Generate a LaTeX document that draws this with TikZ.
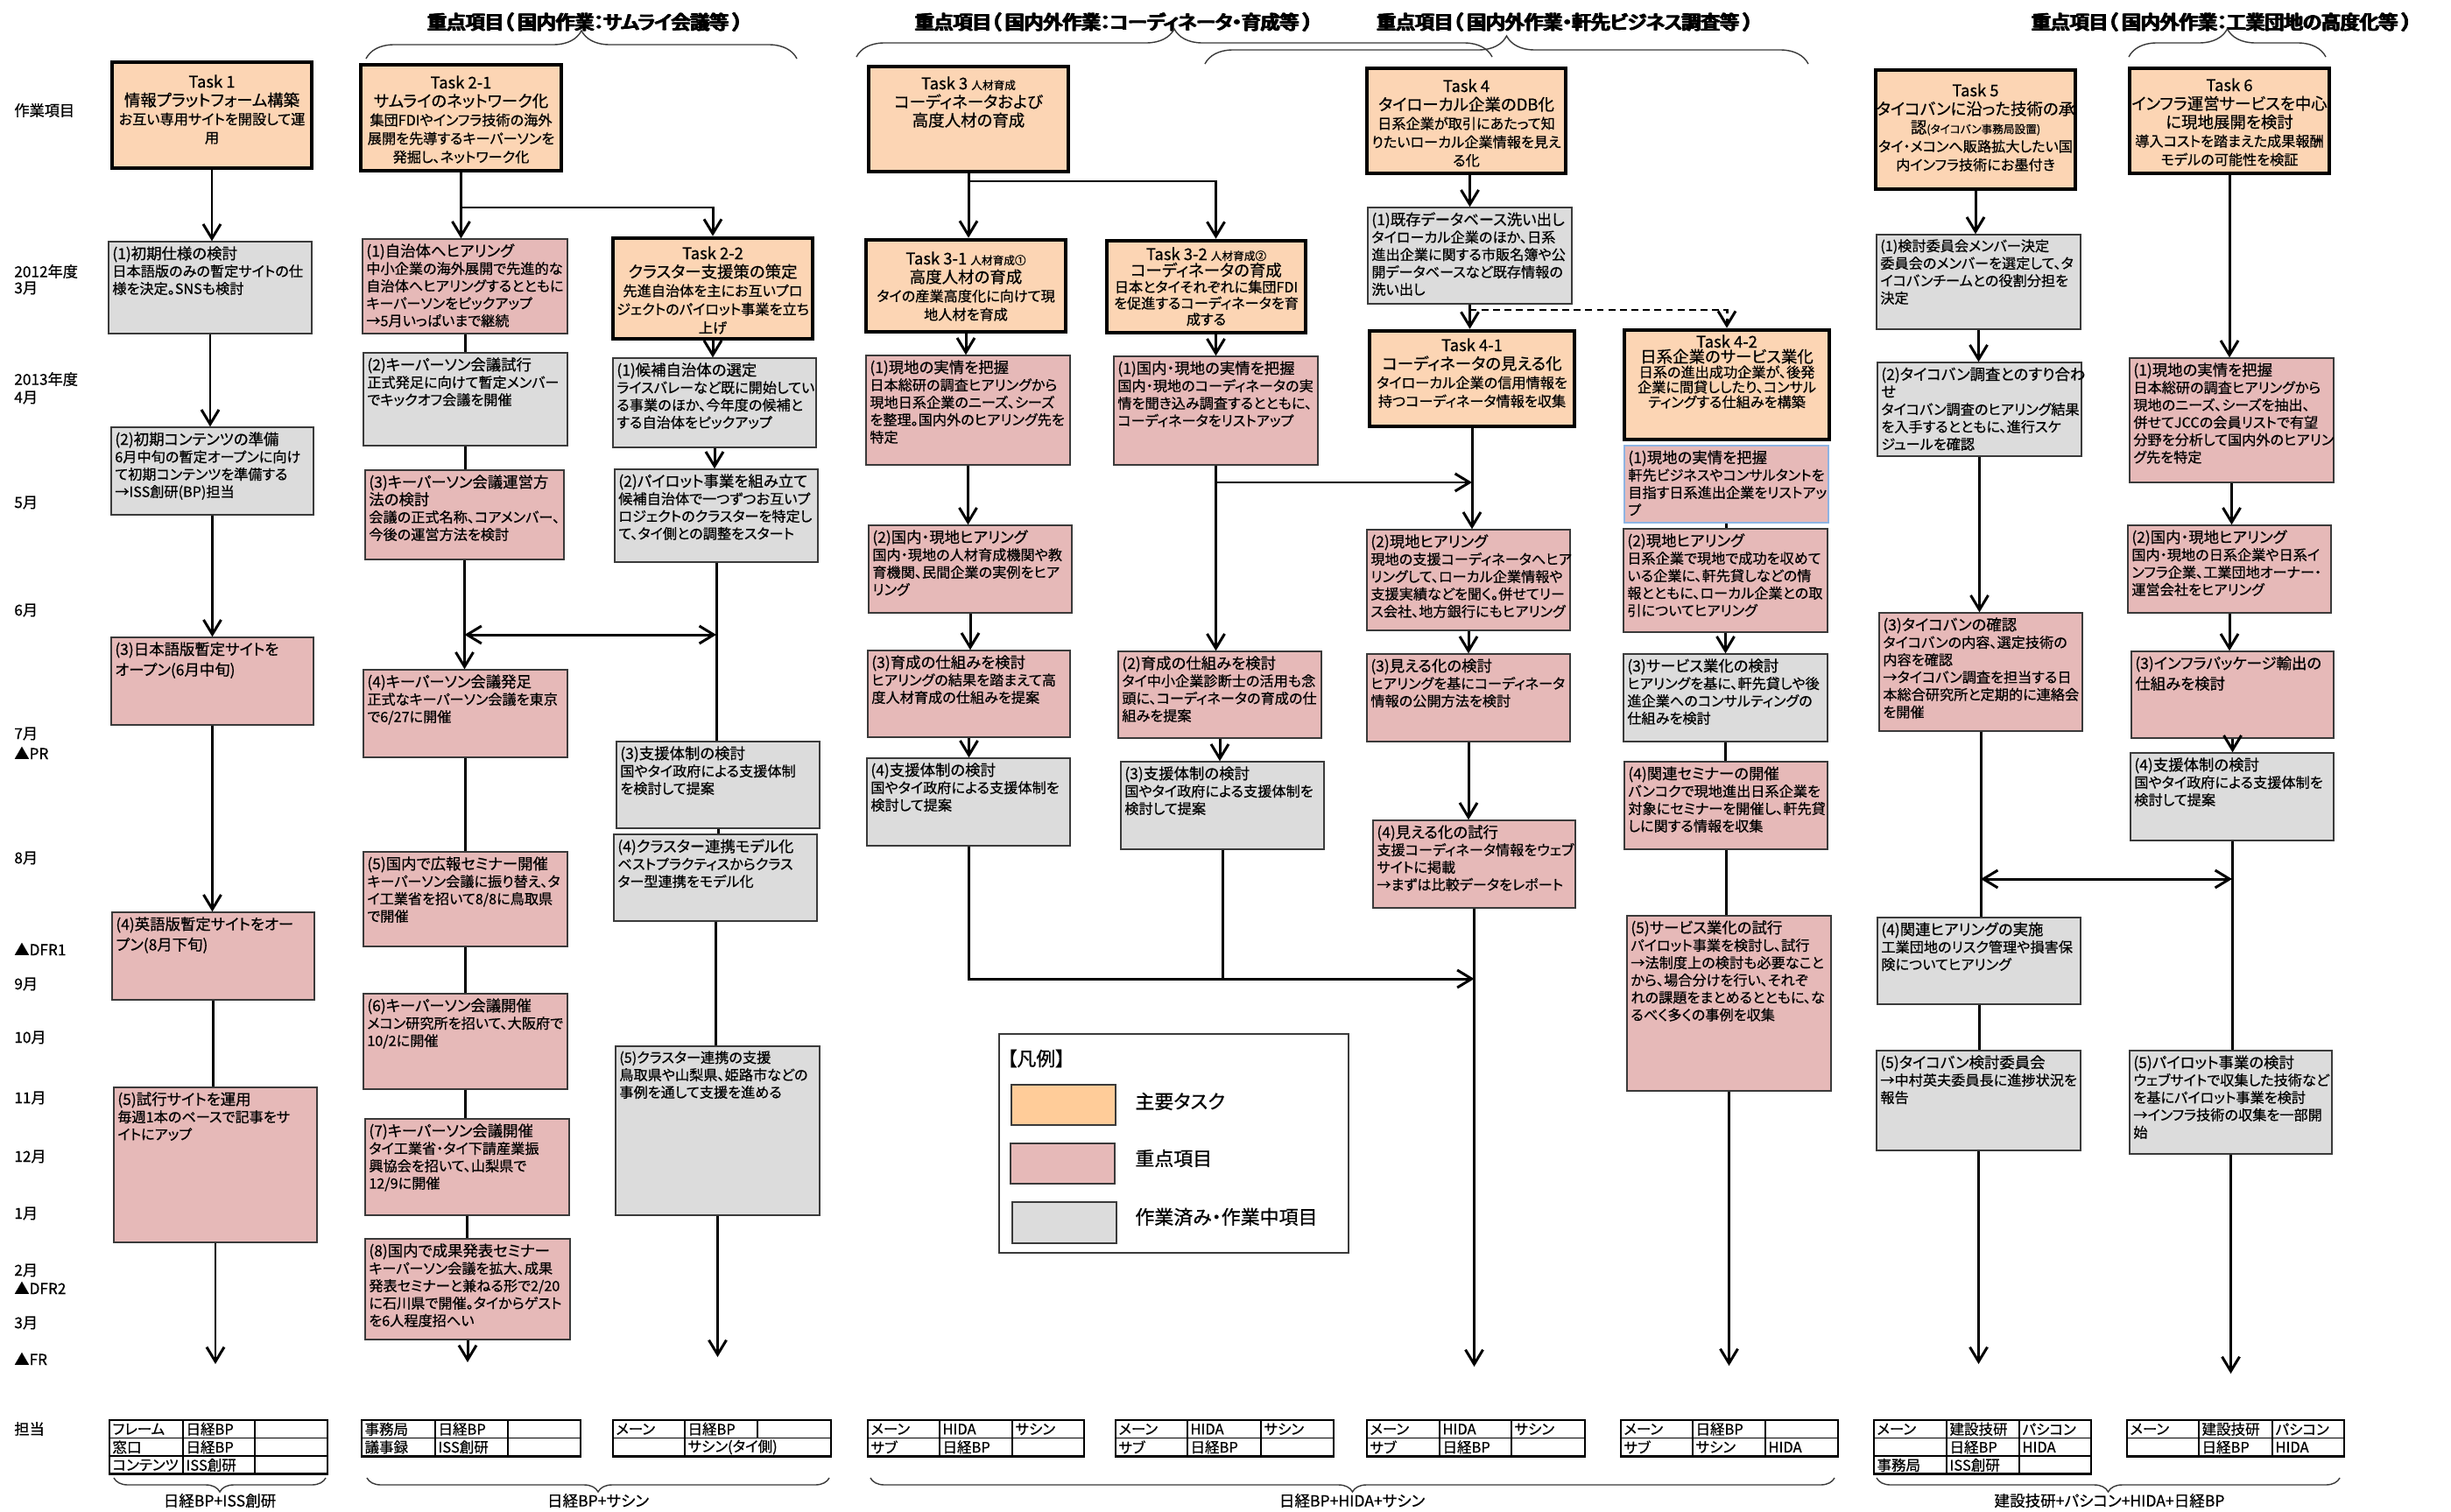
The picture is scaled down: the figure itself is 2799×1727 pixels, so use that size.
\documentclass[tikz,border=0pt]{standalone}
\usepackage{fontspec}
\setmainfont{Noto Sans CJK JP}[RawFeature=+palt, FakeBold=0.6]
\newfontfamily\hdfont{Noto Sans CJK JP}[RawFeature=+palt, FakeBold=3]
\usetikzlibrary{arrows.meta,fit,calc,decorations.pathreplacing}

\definecolor{taskc}{HTML}{FCD5B4}
\definecolor{pinkc}{HTML}{E6B9B8}
\definecolor{grayc}{HTML}{DCDCDC}
\definecolor{legor}{HTML}{FFCC99}
\definecolor{edgec}{HTML}{3A3A3A}
\definecolor{bluee}{HTML}{8EB4E3}

\newcommand{\bodyf}{\fontsize{9.2pt}{11.3pt}\selectfont}
\newcommand{\headf}{\fontsize{9.9pt}{12pt}\selectfont}
\newcommand{\taskf}{\fontsize{9.2pt}{12pt}\selectfont}
\newcommand{\itemhead}[1]{{\headf #1}}
\newcommand{\tasklabel}[1]{{\fontsize{10.5pt}{12pt}\selectfont #1}}
\newcommand{\tasktitle}[1]{{\fontsize{10.5pt}{12pt}\selectfont #1}}
\newcommand{\tasksmall}[1]{{\fontsize{7.2pt}{9pt}\selectfont #1}}
% heavy heading text: the glyphs are overprinted with a small offset
\newcommand{\heavy}[1]{\rlap{#1}\kern0.45pt\rlap{#1}\kern0.45pt#1}

\tikzset{
  conn/.style={line width=1.7pt},
  arr/.style={conn, -{Straight Barb[length=3.3mm,width=4mm]}},
  darr/.style={conn, {Straight Barb[length=3.3mm,width=4mm]}-{Straight Barb[length=3.3mm,width=4mm]}},
  taskframe/.style={draw=black, line width=2.6pt, fill=taskc, inner sep=0pt},
  pinkbox/.style={draw=edgec, line width=0.75pt, fill=pinkc, inner sep=0pt},
  bluepink/.style={draw=bluee, line width=0.9pt, fill=pinkc, inner sep=0pt},
  graybox/.style={draw=edgec, line width=0.75pt, fill=grayc, inner sep=0pt},
  tasktext/.style={anchor=north, inner sep=0pt, align=center, font=\taskf},
  itemtext/.style={anchor=north west, inner sep=0pt, align=left, font=\bodyf},
  lbl/.style={anchor=west, inner sep=0pt, font=\fontsize{9.8pt}{11pt}\selectfont},
  hdr/.style={inner sep=0pt, font={\hdfont\fontsize{12.4pt}{14pt}\selectfont}},
  brc/.style={draw=edgec, line width=0.8pt, decorate},
  tabout/.style={draw=black, line width=1.6pt},
  tabin/.style={draw=black, line width=0.9pt},
  celltext/.style={anchor=west, inner sep=0pt, xshift=1.8pt, font=\fontsize{9.4pt}{10pt}\selectfont},
  foot/.style={inner sep=0pt, font=\fontsize{10pt}{11pt}\selectfont},
  legtext/.style={anchor=west, inner sep=0pt, font=\fontsize{12.5pt}{14pt}\selectfont},
}

% main task box: name, x1, y1, x2, y2, top offset, text
\newcommand{\taskbox}[7]{%
  \coordinate (#1-a) at (#2,#3);
  \coordinate (#1-b) at (#4,#5);
  \node[taskframe, fit=(#1-a)(#1-b)] (#1) {};
  \node[tasktext] (#1-t) at ({(#2+#4)/2},{#3+#6}) {#7};
}
% work item box: name, style, x1, y1, x2, y2, text
\newcommand{\itembox}[7]{%
  \coordinate (#1-a) at (#3,#4);
  \coordinate (#1-b) at (#5,#6);
  \node[#2, fit=(#1-a)(#1-b)] (#1) {};
  \node[itemtext] (#1-t) at ({#3+4},{#4+5}) {#7};
}
% table grid: x0, x1, x2, x3, top, rows
\newcommand{\tabgrid}[6]{%
  \foreach \rr in {1,...,#6}{\draw[tabin] (#1,{#5+\rr*20.6}) -- (#4,{#5+\rr*20.6});}
  \draw[tabin] (#2,#5) -- (#2,{#5+#6*20.6}) (#3,#5) -- (#3,{#5+#6*20.6});
  \draw[tabout] (#1,#5) rectangle (#4,{#5+#6*20.6});
}

\begin{document}
\begin{tikzpicture}[x=0.2mm,y=-0.2mm]
\fill[white] (0,0) rectangle (2799,1727);
\useasboundingbox (0,0) rectangle (2799,1727);

% ---------- section headings and braces ----------
\node[hdr] (h1) at (668,25) {\heavy{重点項目（\ 国内作業：サムライ会議等\ ）}};
\node[hdr] (h2) at (1272,25) {\heavy{重点項目（\ 国内外作業：コーディネータ・育成等\ ）}};
\node[hdr] (h3) at (1787,25) {\heavy{重点項目（\ 国内外作業・軒先ビジネス調査等\ ）}};
\node[hdr] (h4) at (2537,25) {\heavy{重点項目（\ 国内外作業：工業団地の高度化等\ ）}};
\coordinate (b1l) at (418,67);  \coordinate (b1r) at (910,67);
\coordinate (b2l) at (978,65);  \coordinate (b2r) at (1704,65);
\coordinate (b3l) at (1376,73); \coordinate (b3r) at (2065,73);
\coordinate (b4l) at (2431,65); \coordinate (b4r) at (2656,65);
\draw[brc, decoration={brace,amplitude=6.4mm}] (b1l) -- (b1r);
\draw[brc, decoration={brace,amplitude=6.4mm}] (b2l) -- (b2r);
\draw[brc, decoration={brace,amplitude=6.4mm}] (b3l) -- (b3r);
\draw[brc, decoration={brace,amplitude=6.4mm}] (b4l) -- (b4r);

% ---------- time axis ----------
\node[lbl] (l0) at (16,126) {作業項目};
\node[lbl] (l1) at (16,310) {2012年度};
\node[lbl] (l1m) at (16,329) {3月};
\node[lbl] (l2) at (16,433) {2013年度};
\node[lbl] (l2m) at (16,454) {4月};
\node[lbl] (l5) at (16,574) {5月};
\node[lbl] (l6) at (16,697) {6月};
\node[lbl] (l7) at (16,838) {7月};
\node[lbl] (lpr) at (16,860) {▲PR};
\node[lbl] (l8) at (16,980) {8月};
\node[lbl] (ld1) at (16,1084) {▲DFR1};
\node[lbl] (l9) at (16,1124) {9月};
\node[lbl] (l10) at (16,1185) {10月};
\node[lbl] (l11) at (16,1254) {11月};
\node[lbl] (l12) at (16,1321) {12月};
\node[lbl] (l13) at (16,1386) {1月};
\node[lbl] (l14) at (16,1451) {2月};
\node[lbl] (ld2) at (16,1471) {▲DFR2};
\node[lbl] (l15) at (16,1511) {3月};
\node[lbl] (lfr) at (16,1552) {▲FR};
\node[lbl] (lres) at (16,1632) {担当};

% ---------- main tasks ----------
\taskbox{t1}{128}{71}{356}{192}{14}{\tasklabel{Task 1}\\ \tasktitle{情報プラットフォーム構築}\\ お互い専用サイトを開設して運\\ 用}
\taskbox{t21}{412}{74}{641}{195}{12}{\tasklabel{Task 2-1}\\ \tasktitle{サムライのネットワーク化}\\ 集団FDIやインフラ技術の海外\\ 展開を先導するキーパーソンを\\ 発掘し、ネットワーク化}
\taskbox{t22}{700}{272}{928}{387}{9}{\tasklabel{Task 2-2}\\ \tasktitle{クラスター支援策の策定}\\ 先進自治体を主にお互いプロ\\ ジェクトのパイロット事業を立ち\\ 上げ}
\taskbox{t3}{992}{76}{1220}{196}{11}{\tasklabel{Task 3 \tasksmall{人材育成}}\\ \tasktitle{コーディネータおよび}\\ \tasktitle{高度人材の育成}}
\taskbox{t31}{989}{274}{1217}{379}{13}{\tasklabel{Task 3-1 \tasksmall{人材育成①}}\\ \tasktitle{高度人材の育成}\\ タイの産業高度化に向けて現\\ 地人材を育成}
\taskbox{t32}{1264}{275}{1491}{380}{7}{\tasklabel{Task 3-2 \tasksmall{人材育成②}}\\[-1.5pt] \tasktitle{コーディネータの育成}\\[-1.5pt] 日本とタイそれぞれに集団FDI\\[-1.5pt] を促進するコーディネータを育\\[-1.5pt] 成する}
\taskbox{t4}{1561}{78}{1788}{198}{12}{\tasklabel{Task 4}\\ \tasktitle{タイローカル企業のDB化}\\ 日系企業が取引にあたって知\\ りたいローカル企業情報を見え\\ る化}
\taskbox{t41}{1564}{378}{1798}{487}{8}{\tasklabel{Task 4-1}\\ \tasktitle{コーディネータの見える化}\\ タイローカル企業の信用情報を\\ 持つコーディネータ情報を収集}
\taskbox{t42}{1855}{377}{2089}{502}{5}{\tasklabel{Task 4-2}\\[-2.3pt] \tasktitle{日系企業のサービス業化}\\[-2.3pt] 日系の進出成功企業が、後発\\[-2.3pt] 企業に間貸ししたり、コンサル\\[-2.3pt] ティングする仕組みを構築}
\taskbox{t5}{2142}{80}{2370}{216}{15}{\tasklabel{Task 5}\\ \tasktitle{タイコバンに沿った技術の承}\\ \tasktitle{認}\tasksmall{(タイコバン事務局設置)}\\ タイ・メコンへ販路拡大したい国\\ 内インフラ技術にお墨付き}
\taskbox{t6}{2432}{78}{2660}{198}{11}{\tasklabel{Task 6}\\ \tasktitle{インフラ運営サービスを中心}\\ \tasktitle{に現地展開を検討}\\ 導入コストを踏まえた成果報酬\\ モデルの可能性を検証}

% ---------- Task 1 items ----------
\itembox{c1a}{graybox}{124}{276}{356}{381}{\itemhead{(1)初期仕様の検討}\\ 日本語版のみの暫定サイトの仕\\ 様を決定。SNSも検討}
\itembox{c1b}{graybox}{127}{488}{358}{588}{\itemhead{(2)初期コンテンツの準備}\\ 6月中旬の暫定オープンに向け\\ て初期コンテンツを準備する\\ →ISS創研(BP)担当}
\itembox{c1c}{pinkbox}{127}{728}{358}{828}{\itemhead{(3)日本語版暫定サイトを}\\[2pt] \itemhead{オープン(6月中旬)}}
\itembox{c1d}{pinkbox}{128}{1042}{359}{1142}{\itemhead{(4)英語版暫定サイトをオー}\\[2pt] \itemhead{プン(8月下旬)}}
\itembox{c1e}{pinkbox}{130}{1242}{362}{1419}{\itemhead{(5)試行サイトを運用}\\ 毎週1本のペースで記事をサ\\ イトにアップ}

% ---------- Task 2-1 items ----------
\itembox{c2a}{pinkbox}{414}{273}{648}{381}{\itemhead{(1)自治体へヒアリング}\\ 中小企業の海外展開で先進的な\\ 自治体へヒアリングするとともに\\ キーパーソンをピックアップ\\ →5月いっぱいまで継続}
\itembox{c2b}{graybox}{415}{403}{648}{509}{\itemhead{(2)キーパーソン会議試行}\\ 正式発足に向けて暫定メンバー\\ でキックオフ会議を開催}
\itembox{c2c}{pinkbox}{417}{537}{644}{639}{\itemhead{(3)キーパーソン会議運営方}\\ \itemhead{法の検討}\\ 会議の正式名称、コアメンバー、\\ 今後の運営方法を検討}
\itembox{c2d}{pinkbox}{415}{765}{648}{865}{\itemhead{(4)キーパーソン会議発足}\\ 正式なキーパーソン会議を東京\\ で6/27に開催}
\itembox{c2e}{pinkbox}{415}{973}{648}{1081}{\itemhead{(5)国内で広報セミナー開催}\\ キーパーソン会議に振り替え、タ\\ イ工業省を招いて8/8に鳥取県\\ で開催}
\itembox{c2f}{pinkbox}{415}{1135}{648}{1244}{\itemhead{(6)キーパーソン会議開催}\\ メコン研究所を招いて、大阪府で\\ 10/2に開催}
\itembox{c2g}{pinkbox}{417}{1278}{650}{1388}{\itemhead{(7)キーパーソン会議開催}\\ タイ工業省・タイ下請産業振\\ 興協会を招いて、山梨県で\\ 12/9に開催}
\itembox{c2h}{pinkbox}{417}{1415}{651}{1530}{\itemhead{(8)国内で成果発表セミナー}\\ キーパーソン会議を拡大、成果\\ 発表セミナーと兼ねる形で2/20\\ に石川県で開催。タイからゲスト\\ を6人程度招へい}

% ---------- Task 2-2 items ----------
\itembox{c3a}{graybox}{700}{409}{932}{511}{\itemhead{(1)候補自治体の選定}\\ ライスバレーなど既に開始してい\\ る事業のほか、今年度の候補と\\ する自治体をピックアップ}
\itembox{c3b}{graybox}{702}{536}{934}{642}{\itemhead{(2)パイロット事業を組み立て}\\ 候補自治体で一つずつお互いプ\\ ロジェクトのクラスターを特定し\\ て、タイ側との調整をスタート}
\itembox{c3c}{graybox}{704}{847}{936}{946}{\itemhead{(3)支援体制の検討}\\ 国やタイ政府による支援体制\\ を検討して提案}
\itembox{c3d}{graybox}{701}{953}{933}{1052}{\itemhead{(4)クラスター連携モデル化}\\ ベストプラクティスからクラス\\ ター型連携をモデル化}
\itembox{c3e}{graybox}{703}{1195}{936}{1388}{(5)クラスター連携の支援\\ 鳥取県や山梨県、姫路市などの\\ 事例を通して支援を進める}

% ---------- Task 3-1 items ----------
\itembox{c4a}{pinkbox}{989}{406}{1222}{531}{\itemhead{(1)現地の実情を把握}\\ 日本総研の調査ヒアリングから\\ 現地日系企業のニーズ、シーズ\\ を整理。国内外のヒアリング先を\\ 特定}
\itembox{c4b}{pinkbox}{992}{600}{1224}{700}{\itemhead{(2)国内・現地ヒアリング}\\ 国内・現地の人材育成機関や教\\ 育機関、民間企業の実例をヒア\\ リング}
\itembox{c4c}{pinkbox}{991}{743}{1222}{842}{\itemhead{(3)育成の仕組みを検討}\\ ヒアリングの結果を踏まえて高\\ 度人材育成の仕組みを提案}
\itembox{c4d}{graybox}{990}{866}{1222}{966}{\itemhead{(4)支援体制の検討}\\ 国やタイ政府による支援体制を\\ 検討して提案}

% ---------- Task 3-2 items ----------
\itembox{c5a}{pinkbox}{1272}{407}{1505}{531}{\itemhead{(1)国内・現地の実情を把握}\\ 国内・現地のコーディネータの実\\ 情を聞き込み調査するとともに、\\ コーディネータをリストアップ}
\itembox{c5b}{pinkbox}{1277}{744}{1509}{843}{\itemhead{(2)育成の仕組みを検討}\\ タイ中小企業診断士の活用も念\\ 頭に、コーディネータの育成の仕\\ 組みを提案}
\itembox{c5c}{graybox}{1280}{870}{1512}{970}{\itemhead{(3)支援体制の検討}\\ 国やタイ政府による支援体制を\\ 検討して提案}

% ---------- Task 4 / 4-1 items ----------
\itembox{c6a}{graybox}{1562}{237}{1795}{347}{\itemhead{(1)既存データベース洗い出し}\\ タイローカル企業のほか、日系\\ 進出企業に関する市販名簿や公\\ 開データベースなど既存情報の\\ 洗い出し}
\itembox{c6b}{pinkbox}{1561}{605}{1793}{720}{\itemhead{(2)現地ヒアリング}\\ 現地の支援コーディネータへヒア\\ リングして、ローカル企業情報や\\ 支援実績などを聞く。併せてリー\\ ス会社、地方銀行にもヒアリング}
\itembox{c6c}{pinkbox}{1561}{747}{1793}{847}{\itemhead{(3)見える化の検討}\\ ヒアリングを基にコーディネータ\\ 情報の公開方法を検討}
\itembox{c6d}{pinkbox}{1568}{937}{1799}{1037}{\itemhead{(4)見える化の試行}\\ 支援コーディネータ情報をウェブ\\ サイトに掲載\\ →まずは比較データをレポート}

% ---------- Task 4-2 items ----------
\itembox{c7a}{bluepink}{1855}{509}{2088}{597}{\itemhead{(1)現地の実情を把握}\\ 軒先ビジネスやコンサルタントを\\ 目指す日系進出企業をリストアッ\\ プ}
\itembox{c7b}{pinkbox}{1854}{604}{2087}{722}{\itemhead{(2)現地ヒアリング}\\ 日系企業で現地で成功を収めて\\ いる企業に、軒先貸しなどの情\\ 報とともに、ローカル企業との取\\ 引についてヒアリング}
\itembox{c7c}{graybox}{1854}{747}{2087}{847}{\itemhead{(3)サービス業化の検討}\\ ヒアリングを基に、軒先貸しや後\\ 進企業へのコンサルティングの\\ 仕組みを検討}
\itembox{c7d}{pinkbox}{1855}{870}{2087}{970}{\itemhead{(4)関連セミナーの開催}\\ バンコクで現地進出日系企業を\\ 対象にセミナーを開催し、軒先貸\\ しに関する情報を収集}
\itembox{c7e}{pinkbox}{1858}{1046}{2091}{1246}{\itemhead{(5)サービス業化の試行}\\ パイロット事業を検討し、試行\\ →法制度上の検討も必要なこと\\ から、場合分けを行い、それぞ\\ れの課題をまとめるとともに、な\\ るべく多くの事例を収集}

% ---------- Task 5 items ----------
\itembox{c8a}{graybox}{2143}{268}{2376}{376}{(1)検討委員会メンバー決定\\ 委員会のメンバーを選定して、タ\\ イコバンチームとの役割分担を\\ 決定}
\itembox{c8b}{graybox}{2144}{414}{2377}{521}{\itemhead{(2)タイコバン調査とのすり合わ}\\ \itemhead{せ}\\ タイコバン調査のヒアリング結果\\ を入手するとともに、進行スケ\\ ジュールを確認}
\itembox{c8c}{pinkbox}{2146}{700}{2378}{835}{\itemhead{(3)タイコバンの確認}\\ タイコバンの内容、選定技術の\\ 内容を確認\\ →タイコバン調査を担当する日\\ 本総合研究所と定期的に連絡会\\ を開催}
\itembox{c8d}{graybox}{2144}{1048}{2376}{1147}{\itemhead{(4)関連ヒアリングの実施}\\ 工業団地のリスク管理や損害保\\ 険についてヒアリング}
\itembox{c8e}{graybox}{2143}{1200}{2376}{1314}{\itemhead{(5)タイコバン検討委員会}\\ →中村英夫委員長に進捗状況を\\ 報告}

% ---------- Task 6 items ----------
\itembox{c9a}{pinkbox}{2432}{409}{2665}{551}{\itemhead{(1)現地の実情を把握}\\ 日本総研の調査ヒアリングから\\ 現地のニーズ、シーズを抽出、\\ 併せてJCCの会員リストで有望\\ 分野を分析して国内外のヒアリン\\ グ先を特定}
\itembox{c9b}{pinkbox}{2430}{600}{2662}{700}{\itemhead{(2)国内・現地ヒアリング}\\ 国内・現地の日系企業や日系イ\\ ンフラ企業、工業団地オーナー・\\ 運営会社をヒアリング}
\itembox{c9c}{pinkbox}{2434}{744}{2665}{843}{\itemhead{(3)インフラパッケージ輸出の}\\[2pt] \itemhead{仕組みを検討}}
\itembox{c9d}{graybox}{2433}{860}{2665}{960}{\itemhead{(4)支援体制の検討}\\ 国やタイ政府による支援体制を\\ 検討して提案}
\itembox{c9e}{graybox}{2432}{1200}{2663}{1318}{\itemhead{(5)パイロット事業の検討}\\ ウェブサイトで収集した技術など\\ を基にパイロット事業を検討\\ →インフラ技術の収集を一部開\\ 始}

% ---------- connectors: Task 1 ----------
\draw[arr] (t1.south) -- (t1.south |- c1a.north);
\draw[arr] (c1a.south) -- (c1a.south |- c1b.north);
\draw[arr] (c1b.south) -- (c1b.south |- c1c.north);
\draw[arr] (c1c.south) -- (c1c.south |- c1d.north);
\draw[conn] (c1d.south) -- (c1d.south |- c1e.north);
\coordinate (e1) at (c1e.south |- 0,1558);
\draw[arr] (c1e.south) -- (e1);

% ---------- connectors: Task 2 ----------
\draw[arr] (t21.south) -- (t21.south |- c2a.north);
\coordinate (j2) at (t21.south |- 0,237);
\draw[arr] (j2) -| (t22.north);
\draw[conn] (c2a.south) -- (c2a.south |- c2b.north);
\draw[conn] (c2b.south) -- (c2b.south |- c2c.north);
\draw[arr] (c2c.south) -- (c2c.south |- c2d.north);
\draw[conn] (c2d.south) -- (c2d.south |- c2e.north);
\draw[conn] (c2e.south) -- (c2e.south |- c2f.north);
\draw[conn] (c2f.south) -- (c2f.south |- c2g.north);
\draw[conn] (c2g.south) -- (c2g.south |- c2h.north);
\coordinate (e2) at (c2h.south |- 0,1556);
\draw[arr] (c2h.south) -- (e2);

\draw[arr] (t22.south) -- (t22.south |- c3a.north);
\draw[arr] (c3a.south) -- (c3a.south |- c3b.north);
\draw[conn] (c3b.south) -- (c3b.south |- c3c.north);
\draw[conn] (c3c.south) -- (c3c.south |- c3d.north);
\draw[conn] (c3d.south) -- (c3d.south |- c3e.north);
\coordinate (e3) at (c3e.south |- 0,1550);
\draw[arr] (c3e.south) -- (e3);
\coordinate (dl1) at (c2c.south |- 0,725);
\coordinate (dr1) at (c3b.south |- 0,725);
\draw[darr] (dl1) -- (dr1);

% ---------- connectors: Task 3 ----------
\draw[arr] (t3.south) -- (t3.south |- t31.north);
\coordinate (j3) at (t3.south |- 0,207);
\draw[arr] (j3) -| (c5a.north |- t32.north);
\draw[arr] (t31.south) -- (t31.south |- c4a.north);
\draw[arr] (c4a.south) -- (c4a.south |- c4b.north);
\draw[arr] (c4b.south) -- (c4b.south |- c4c.north);
\draw[arr] (c4c.south) -- (c4c.south |- c4d.north);
\draw[arr] (c5a.north |- t32.south) -- (c5a.north);
\draw[arr] (c5a.south) -- (c5a.south |- c5b.north);
\draw[arr] (c5b.south) -- (c5b.south |- c5c.north);
\coordinate (m2) at (t41.south |- 0,551);
\coordinate (m2s) at (c5a.south |- m2);
\draw[arr] (m2s) -- (m2);
\coordinate (m1) at (c6d.south |- 0,1118);
\draw[arr] (c4d.south) |- (m1);
\draw[conn] (c5c.south) -- (c5c.south |- m1);

% ---------- connectors: Task 4 ----------
\draw[arr] (c6a.north |- t4.south) -- (c6a.north);
\draw[arr] (c6a.south) -- (c6a.south |- t41.north);
\coordinate (d1) at (c6a.south |- 0,354);
\draw[arr, dashed, dash pattern=on 4.5pt off 3pt] (d1) -| (t42.north);
\draw[arr] (t41.south) -- (t41.south |- c6b.north);
\draw[arr] (c6b.south) -- (c6b.south |- c6c.north);
\draw[arr] (c6c.south) -- (c6c.south |- c6d.north);
\coordinate (e6) at (c6d.south |- 0,1561);
\draw[arr] (c6d.south) -- (e6);

\draw[conn] (c7a.south) -- (c7a.south |- c7b.north);
\draw[arr] (c7b.south) -- (c7b.south |- c7c.north);
\draw[conn] (c7c.south) -- (c7c.south |- c7d.north);
\draw[conn] (c7d.south) -- (c7d.south |- c7e.north);
\coordinate (e7) at (c7e.south |- 0,1560);
\draw[arr] (c7e.south) -- (e7);

% ---------- connectors: Task 5 / Task 6 ----------
\draw[arr] (t5.south) -- (t5.south |- c8a.north);
\draw[arr] (c8a.south) -- (c8a.south |- c8b.north);
\draw[arr] (c8b.south) -- (c8b.south |- c8c.north);
\draw[conn] (c8c.south) -- (c8c.south |- c8d.north);
\draw[conn] (c8d.south) -- (c8d.south |- c8e.north);
\coordinate (e8) at (c8e.south |- 0,1558);
\draw[arr] (c8e.south) -- (e8);

\draw[arr] (t6.south) -- (t6.south |- c9a.north);
\draw[arr] (c9a.south) -- (c9a.south |- c9b.north);
\draw[arr] (c9b.south) -- (c9b.south |- c9c.north);
\draw[arr] (c9c.south) -- (c9c.south |- c9d.north);
\draw[conn] (c9d.south) -- (c9d.south |- c9e.north);
\coordinate (e9) at (c9e.south |- 0,1569);
\draw[arr] (c9e.south) -- (e9);
\coordinate (dl2) at (c8c.south |- 0,1004);
\coordinate (dr2) at (c9d.south |- 0,1004);
\draw[darr] (dl2) -- (dr2);

% ---------- legend ----------
\coordinate (lg-a) at (1141,1181);
\coordinate (lg-b) at (1540,1431);
\node[draw=edgec, line width=0.8pt, fill=white, inner sep=0pt, fit=(lg-a)(lg-b)] (legend) {};
\node[legtext] (lg-title) at (1150,1209) {【凡例】};
\coordinate (s1a) at (1155,1239); \coordinate (s1b) at (1274,1285);
\node[draw=edgec, line width=0.8pt, fill=legor, inner sep=0pt, fit=(s1a)(s1b)] (sw1) {};
\coordinate (s2a) at (1154,1306); \coordinate (s2b) at (1273,1352);
\node[draw=edgec, line width=0.8pt, fill=pinkc, inner sep=0pt, fit=(s2a)(s2b)] (sw2) {};
\coordinate (s3a) at (1156,1373); \coordinate (s3b) at (1275,1420);
\node[draw=edgec, line width=0.8pt, fill=grayc, inner sep=0pt, fit=(s3a)(s3b)] (sw3) {};
\node[legtext] (lg1) at (1296,1258) {主要タスク};
\node[legtext] (lg2) at (1296,1323) {重点項目};
\node[legtext] (lg3) at (1296,1390) {作業済み・作業中項目};

% ---------- responsibility tables ----------
\tabgrid{125}{209}{291}{374}{1622}{3}
\node[celltext] (tb1-a1) at (125,1632.3) {フレーム};
\node[celltext] (tb1-b1) at (209,1632.3) {日経BP};
\node[celltext] (tb1-a2) at (125,1652.9) {窓口};
\node[celltext] (tb1-b2) at (209,1652.9) {日経BP};
\node[celltext] (tb1-a3) at (125,1673.5) {コンテンツ};
\node[celltext] (tb1-b3) at (209,1673.5) {ISS創研};

\tabgrid{413}{497}{580}{663}{1622}{2}
\node[celltext] (tb2-a1) at (413,1632.3) {事務局};
\node[celltext] (tb2-b1) at (497,1632.3) {日経BP};
\node[celltext] (tb2-a2) at (413,1652.9) {議事録};
\node[celltext] (tb2-b2) at (497,1652.9) {ISS創研};

\draw[tabin] (700,1642.6) -- (949,1642.6);
\draw[tabin] (782,1622) -- (782,1663.2);
\draw[tabin] (865,1622) -- (865,1642.6);
\draw[tabout] (700,1622) rectangle (949,1663.2);
\node[celltext] (tb3-a1) at (700,1632.3) {メーン};
\node[celltext] (tb3-b1) at (782,1632.3) {日経BP};
\node[celltext] (tb3-b2) at (782,1652.9) {サシン(タイ側)};

\tabgrid{991}{1073}{1156}{1238}{1622}{2}
\node[celltext] (tb4-a1) at (991,1632.3) {メーン};
\node[celltext] (tb4-b1) at (1073,1632.3) {HIDA};
\node[celltext] (tb4-c1) at (1156,1632.3) {サシン};
\node[celltext] (tb4-a2) at (991,1652.9) {サブ};
\node[celltext] (tb4-b2) at (1073,1652.9) {日経BP};

\tabgrid{1274}{1356}{1440}{1523}{1622}{2}
\node[celltext] (tb5-a1) at (1274,1632.3) {メーン};
\node[celltext] (tb5-b1) at (1356,1632.3) {HIDA};
\node[celltext] (tb5-c1) at (1440,1632.3) {サシン};
\node[celltext] (tb5-a2) at (1274,1652.9) {サブ};
\node[celltext] (tb5-b2) at (1356,1652.9) {日経BP};

\tabgrid{1561}{1644}{1726}{1810}{1622}{2}
\node[celltext] (tb6-a1) at (1561,1632.3) {メーン};
\node[celltext] (tb6-b1) at (1644,1632.3) {HIDA};
\node[celltext] (tb6-c1) at (1726,1632.3) {サシン};
\node[celltext] (tb6-a2) at (1561,1652.9) {サブ};
\node[celltext] (tb6-b2) at (1644,1652.9) {日経BP};

\tabgrid{1851}{1933}{2016}{2099}{1622}{2}
\node[celltext] (tb7-a1) at (1851,1632.3) {メーン};
\node[celltext] (tb7-b1) at (1933,1632.3) {日経BP};
\node[celltext] (tb7-a2) at (1851,1652.9) {サブ};
\node[celltext] (tb7-b2) at (1933,1652.9) {サシン};
\node[celltext] (tb7-c2) at (2016,1652.9) {HIDA};

\tabgrid{2140}{2223}{2306}{2388}{1622}{3}
\node[celltext] (tb8-a1) at (2140,1632.3) {メーン};
\node[celltext] (tb8-b1) at (2223,1632.3) {建設技研};
\node[celltext] (tb8-c1) at (2306,1632.3) {パシコン};
\node[celltext] (tb8-b2) at (2223,1652.9) {日経BP};
\node[celltext] (tb8-c2) at (2306,1652.9) {HIDA};
\node[celltext] (tb8-a3) at (2140,1673.5) {事務局};
\node[celltext] (tb8-b3) at (2223,1673.5) {ISS創研};

\tabgrid{2429}{2511}{2595}{2677}{1622}{2}
\node[celltext] (tb9-a1) at (2429,1632.3) {メーン};
\node[celltext] (tb9-b1) at (2511,1632.3) {建設技研};
\node[celltext] (tb9-c1) at (2595,1632.3) {パシコン};
\node[celltext] (tb9-b2) at (2511,1652.9) {日経BP};
\node[celltext] (tb9-c2) at (2595,1652.9) {HIDA};

% ---------- bottom braces ----------
\coordinate (f1l) at (130,1688);  \coordinate (f1r) at (372,1688);
\coordinate (f2l) at (419,1688);  \coordinate (f2r) at (947,1688);
\coordinate (f3l) at (994,1688);  \coordinate (f3r) at (2095,1688);
\coordinate (f4l) at (2143,1688); \coordinate (f4r) at (2672,1688);
\draw[brc, decoration={brace,mirror,amplitude=3.2mm}] (f1l) -- (f1r);
\draw[brc, decoration={brace,mirror,amplitude=3.2mm}] (f2l) -- (f2r);
\draw[brc, decoration={brace,mirror,amplitude=3.2mm}] (f3l) -- (f3r);
\draw[brc, decoration={brace,mirror,amplitude=3.2mm}] (f4l) -- (f4r);
\node[foot] (ft1) at (251,1714) {日経BP+ISS創研};
\node[foot] (ft2) at (683,1714) {日経BP+サシン};
\node[foot] (ft3) at (1544,1714) {日経BP+HIDA+サシン};
\node[foot] (ft4) at (2409,1714) {建設技研+パシコン+HIDA+日経BP};
\end{tikzpicture}
\end{document}
